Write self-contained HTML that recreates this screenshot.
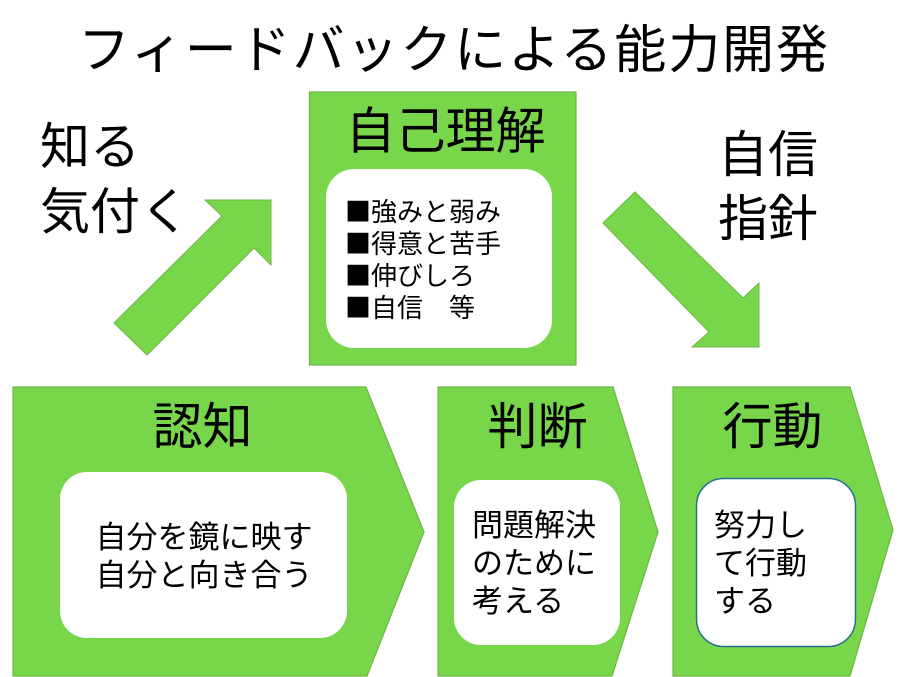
<!DOCTYPE html>
<html><head><meta charset="utf-8"><style>
html,body{margin:0;padding:0;background:#fff;}
svg{display:block;}
text{font-family:"Liberation Sans","Noto Sans CJK JP",sans-serif;fill:#000;}
.j{font-family:"Noto Sans CJK JP","Liberation Sans",sans-serif;}
</style></head><body>
<svg width="900" height="677" viewBox="0 0 900 677" xmlns="http://www.w3.org/2000/svg">
<rect width="900" height="677" fill="#fff"/>
<!-- title -->
<text x="453" y="68" font-size="52" text-anchor="middle" textLength="750" lengthAdjust="spacing">フィードバックによる能力開発</text>

<!-- left labels -->
<text x="40" y="164" font-size="50">知る</text>
<text x="40" y="229" font-size="50">気付く</text>
<!-- right labels -->
<text x="718" y="172" font-size="50">自信</text>
<text x="718" y="236" font-size="50">指針</text>

<!-- arrows -->
<polygon points="114,323 222,216 205,200 271,200 271,265 254,248 147,355" fill="#78D64B" stroke="#6DB545" stroke-width="1"/>
<polygon points="603,223 635,192 743,298 759,283 759,347 692,347 709,332" fill="#78D64B" stroke="#6DB545" stroke-width="1"/>

<!-- top box -->
<rect x="309.5" y="92" width="266.5" height="273" fill="#78D64B" stroke="#6DB545" stroke-width="1.2"/>
<rect x="326" y="169" width="226" height="179" rx="28" ry="28" fill="#fff"/>
<text x="445.5" y="148.5" font-size="50" text-anchor="middle">自己理解</text>
<g font-size="26" class="j">
<text class="j" x="345" y="221">■強みと弱み</text>
<text class="j" x="345" y="253">■得意と苦手</text>
<text class="j" x="345" y="285">■伸びしろ</text>
<text class="j" x="345" y="317">■自信　等</text>
</g>

<!-- chevrons -->
<polygon points="13,387 366,387 424,532 367,676 13,676" fill="#78D64B" stroke="#6DB545" stroke-width="1.2"/>
<polygon points="438,387 613,387 658,532 612,676 438,676" fill="#78D64B" stroke="#6DB545" stroke-width="1.2"/>
<polygon points="673,387 850,387 893,530 850,676 673,676" fill="#78D64B" stroke="#6DB545" stroke-width="1.2"/>

<rect x="60" y="472" width="287" height="166" rx="27" ry="27" fill="#fff"/>
<rect x="454" y="480" width="166" height="165" rx="27" ry="27" fill="#fff"/>
<rect x="696.5" y="478.5" width="159" height="168" rx="27" ry="27" fill="#fff" stroke="#2A6E8E" stroke-width="1.5"/>

<text x="202.5" y="444" font-size="50" text-anchor="middle">認知</text>
<text x="537.5" y="444" font-size="50" text-anchor="middle">判断</text>
<text x="772.5" y="444" font-size="50" text-anchor="middle">行動</text>

<text x="204" y="548" font-size="31" text-anchor="middle">自分を鏡に映す</text>
<text x="204" y="586" font-size="31" text-anchor="middle">自分と向き合う</text>

<text x="472" y="536" font-size="31">問題解決</text>
<text x="472" y="574" font-size="31">のために</text>
<text x="472" y="612" font-size="31">考える</text>

<text x="714" y="536" font-size="31">努力し</text>
<text x="714" y="574" font-size="31">て行動</text>
<text x="714" y="612" font-size="31">する</text>
</svg>
</body></html>
